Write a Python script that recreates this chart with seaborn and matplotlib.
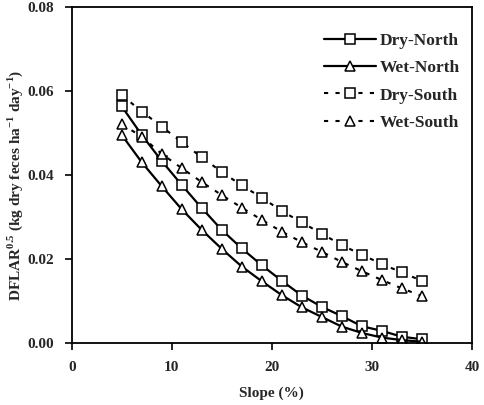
import numpy as np
import pandas as pd
import matplotlib
matplotlib.use("Agg")
import matplotlib.pyplot as plt
import seaborn as sns

# slope values (%)
slope = [5, 7, 9, 11, 13, 15, 17, 19, 21, 23, 25, 27, 29, 31, 33, 35]

# DFLAR^0.5
dry_north = [0.0563, 0.0495, 0.0433, 0.0376, 0.0321, 0.0269, 0.0225, 0.0185,
             0.0148, 0.0113, 0.0086, 0.0064, 0.0040, 0.0029, 0.0015, 0.0009]
wet_north = [0.0495, 0.0430, 0.0373, 0.0318, 0.0269, 0.0224, 0.0182, 0.0147,
             0.0114, 0.0085, 0.0062, 0.0039, 0.0024, 0.0013, 0.0007, 0.0003]
dry_south = [0.0590, 0.0551, 0.0515, 0.0478, 0.0442, 0.0407, 0.0375, 0.0346,
             0.0314, 0.0287, 0.0260, 0.0233, 0.0210, 0.0188, 0.0168, 0.0148]
wet_south = [0.0521, 0.0491, 0.0450, 0.0416, 0.0383, 0.0352, 0.0322, 0.0293,
             0.0265, 0.0240, 0.0217, 0.0193, 0.0171, 0.0150, 0.0130, 0.0112]

series = ['Dry-North', 'Wet-North', 'Dry-South', 'Wet-South']
xticks = [0, 10, 20, 30, 40]
yticks = [0.00, 0.02, 0.04, 0.06, 0.08]

sns.set_style('ticks')
plt.rcParams['font.family'] = ['Liberation Serif', 'DejaVu Serif']
plt.rcParams['font.weight'] = 'bold'
plt.rcParams['mathtext.fontset'] = 'custom'
plt.rcParams['mathtext.rm'] = 'Liberation Serif:bold'
plt.rcParams['mathtext.bf'] = 'Liberation Serif:bold'

df = pd.DataFrame({'Slope': slope * 4,
                   'DFLAR': dry_north + wet_north + dry_south + wet_south,
                   'Series': np.repeat(series, len(slope))})

fig = plt.figure(figsize=(4.85, 4.05), dpi=100)
ax = fig.add_axes([0.148, 0.153, 0.825, 0.830])

# style for each series: marker, line style, line width
styles = {
    'Dry-North': ('s', '-', 1.6),
    'Wet-North': ('^', '-', 1.6),
    'Dry-South': ('s', (0, (2, 3.5)), 1.5),
    'Wet-South': ('^', (0, (2, 3.5)), 1.5),
}

for name in series:
    marker, ls, lw = styles[name]
    sns.lineplot(x='Slope', y='DFLAR', data=df[df['Series'] == name], ax=ax,
                 color='black', marker=marker, markersize=6.8,
                 markerfacecolor='white', markeredgecolor='black',
                 markeredgewidth=1.1, linestyle=ls, linewidth=lw,
                 label=name)

ax.set_xlim(0, 40)
ax.set_ylim(0, 0.08)
ax.set_xticks(xticks)
ax.set_yticks(yticks)
ax.set_xticklabels([str(t) for t in xticks], fontsize=11, fontweight='bold')
ax.set_yticklabels([f'{t:.2f}' for t in yticks], fontsize=11, fontweight='bold')
ax.tick_params(direction='out', length=5, width=1.2, color='black', pad=8)
for s in ax.spines.values():
    s.set_linewidth(1.3)
    s.set_color('black')

ax.set_xlabel('Slope (%)', fontsize=11, fontweight='bold', labelpad=9)
ax.set_ylabel(r'DFLAR$^{0.5}$ (kg dry feces ha$^{-1}$ day$^{-1}$)',
              fontsize=11, fontweight='bold')
ax.yaxis.set_label_coords(-0.118, 0.47)

leg = ax.legend(loc='upper right', bbox_to_anchor=(1.0, 0.96), frameon=False,
                fontsize=12.5, handlelength=3.0, handletextpad=0.2,
                labelspacing=0.65, borderaxespad=0.3)
for t in leg.get_texts():
    t.set_fontweight('bold')

fig.savefig('out.png', dpi=100)
